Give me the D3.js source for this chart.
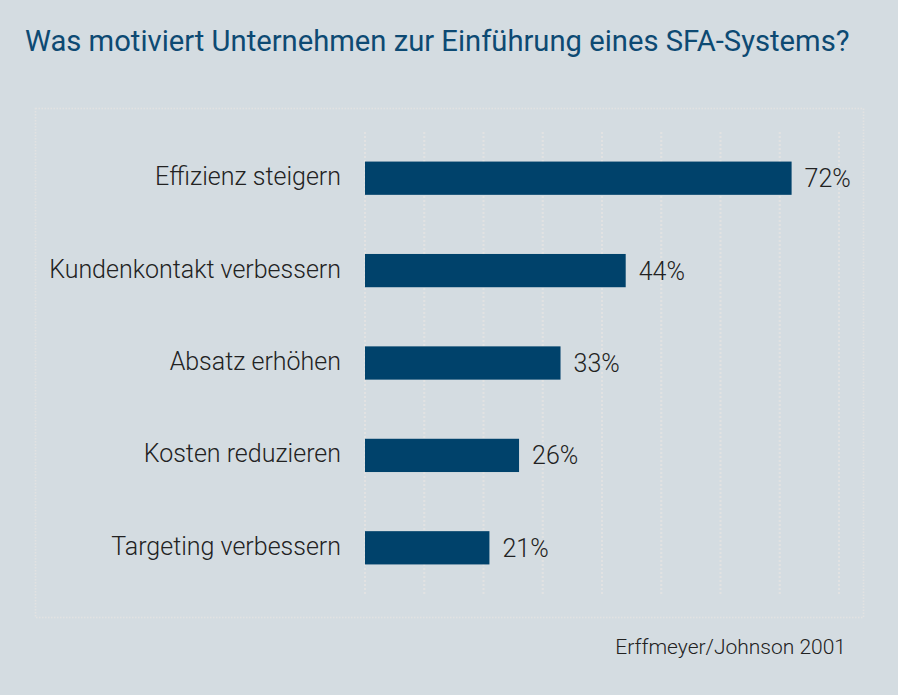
<!DOCTYPE html>
<html>
<head>
<meta charset="utf-8">
<script src="https://cdn.jsdelivr.net/npm/d3@7"></script>
<style>
  html, body { margin: 0; padding: 0; background: #d4dce1; }
  svg { display: block; }
</style>
</head>
<body>
<div id="chart"></div>
<script>
// data
const categories = ['Effizienz steigern', 'Kundenkontakt verbessern', 'Absatz erhöhen', 'Kosten reduzieren', 'Targeting verbessern'];
const values = [72, 44, 33, 26, 21];
const gridTicks = [0, 10, 20, 30, 40, 50, 60, 70, 80];
const title = 'Was motiviert Unternehmen zur Einführung eines SFA-Systems?';
const source = 'Erffmeyer/Johnson 2001';

// const
const width = 898;
const height = 695;
const margin = { top: 132, right: 59, bottom: 101, left: 365 };

// svg
const svg = d3.select('#chart')
    .append('svg')
    .attr('width', width)
    .attr('height', height)
    .style('font-family', 'Roboto, sans-serif');

svg.append('rect')
    .attr('width', width)
    .attr('height', height)
    .attr('fill', '#d4dce1');

// outer dotted frame
svg.append('rect')
    .attr('x', 35.5)
    .attr('y', 108.5)
    .attr('width', 828)
    .attr('height', 509)
    .attr('fill', 'none')
    .attr('stroke', '#e2e2e2')
    .attr('stroke-width', 1.5)
    .attr('stroke-dasharray', '1.5,1.5');

// title
svg.append('text')
    .attr('x', 25)
    .attr('y', 51)
    .attr('fill', '#0d4a73')
    .style('font-size', '29.2px')
    .style('font-weight', 400)
    .text(title);

// x scale
const x = d3.scaleLinear()
    .domain([0, 80])
    .range([margin.left, 839]);

// y scale
const y = d3.scaleBand()
    .domain(categories)
    .range([margin.top, height - margin.bottom])
    .paddingInner(0.64)
    .paddingOuter(0.32);

// grid
svg.append('g')
    .selectAll('line')
    .data(gridTicks)
    .join('line')
    .attr('x1', d => x(d))
    .attr('x2', d => x(d))
    .attr('y1', margin.top)
    .attr('y2', height - margin.bottom)
    .attr('stroke', '#e2e2e2')
    .attr('stroke-width', 2)
    .attr('stroke-dasharray', '2,2');

// bars
svg.append('g')
    .selectAll('rect')
    .data(values)
    .join('rect')
    .attr('x', x(0))
    .attr('y', (d, i) => y(categories[i]))
    .attr('width', d => x(d) - x(0))
    .attr('height', y.bandwidth())
    .attr('fill', '#00426b');

// category labels
svg.append('g')
    .selectAll('text')
    .data(categories)
    .join('text')
    .attr('x', x(0) - 24)
    .attr('y', d => y(d) + y.bandwidth() / 2 + 7)
    .attr('text-anchor', 'end')
    .attr('fill', '#222')
    .style('font-size', '25px')
    .style('font-weight', 300)
    .text(d => d);

// value labels
svg.append('g')
    .selectAll('text')
    .data(values)
    .join('text')
    .attr('x', d => x(d) + 13)
    .attr('y', (d, i) => y(categories[i]) + y.bandwidth() / 2 + 9)
    .attr('fill', '#222')
    .style('font-size', '25px')
    .style('font-weight', 300)
    .text(d => d + '%');

// source
svg.append('text')
    .attr('x', 846)
    .attr('y', 654)
    .attr('text-anchor', 'end')
    .attr('fill', '#222')
    .style('font-size', '21px')
    .style('font-weight', 300)
    .text(source);
</script>
</body>
</html>
